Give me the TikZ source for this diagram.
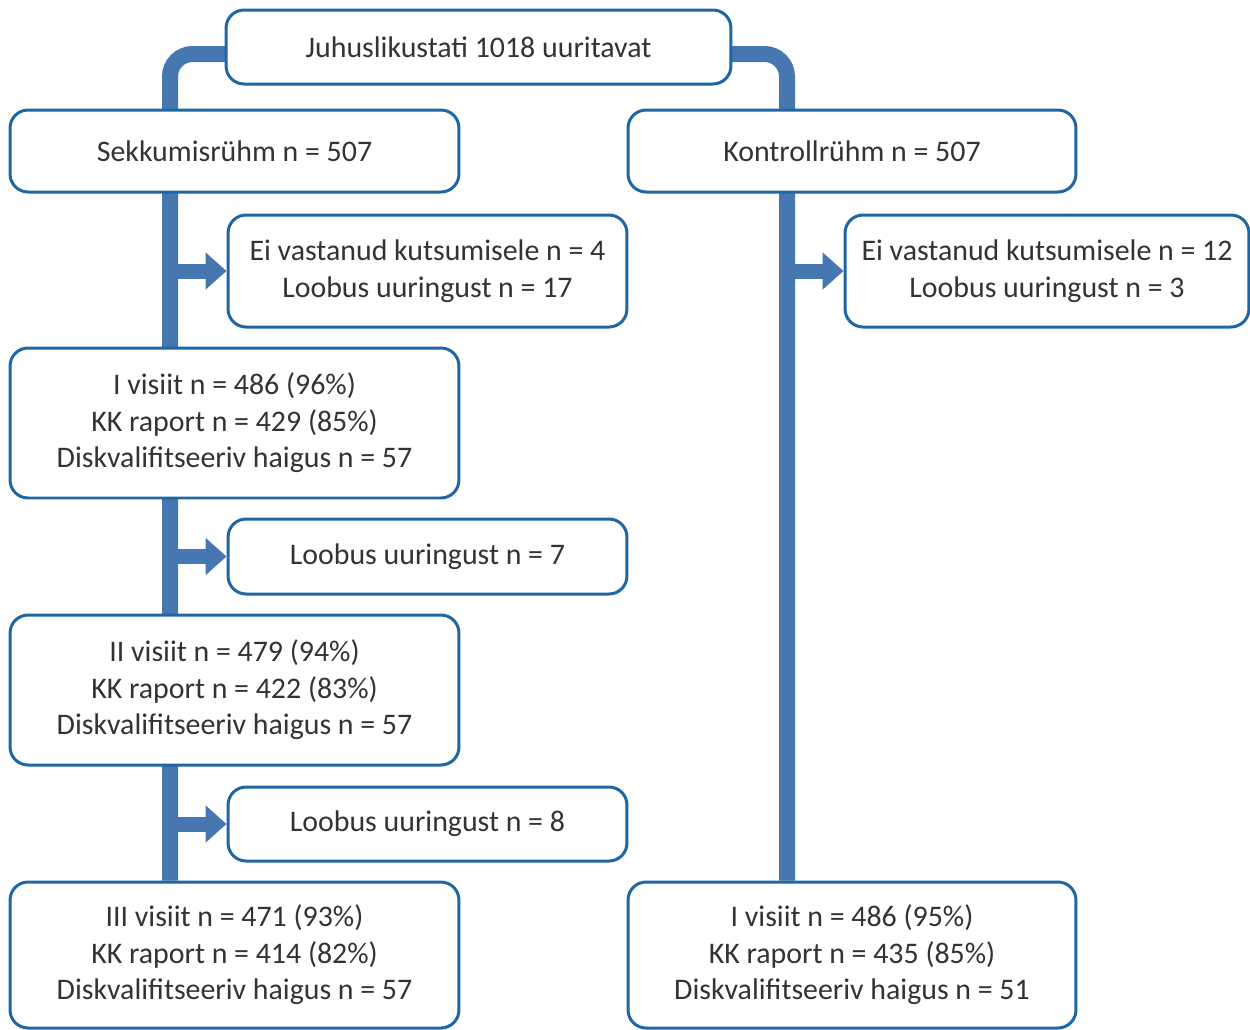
\documentclass[tikz,border=0pt]{standalone}
\usepackage{fontspec}
\setmainfont{Carlito}
\usetikzlibrary{arrows.meta}
\definecolor{trunkblue}{HTML}{4677B1}
\definecolor{boxblue}{HTML}{1E67A4}
\definecolor{txt}{HTML}{333333}
\pgfdeclarelayer{back}
\pgfsetlayers{back,main}
\begin{document}
\begin{tikzpicture}[x=0.02cm,y=-0.02cm,
  box/.style={draw=boxblue, line width=0.06cm, fill=white, rounded corners=0.36cm,
    align=center, inner sep=0pt, text=txt, font=\fontsize{17}{20.8}\selectfont},
  trunk/.style={draw=trunkblue, line width=0.32cm, rounded corners=0.45cm},
  branch/.style={draw=trunkblue, line width=0.3cm,
    -{Triangle[width=0.72cm,length=0.42cm]}, fill=trunkblue}]
\useasboundingbox (0,0) rectangle (1250,1029);
\coordinate (L) at (170,0);
\coordinate (R) at (787,0);

% boxes
\node[box, minimum width=10.1cm, minimum height=1.48cm] (top) at (478.5,47) {Juhuslikustati 1018 uuritavat};
\node[box, minimum width=8.98cm, minimum height=1.64cm] (sek) at (234.5,151) {Sekkumisrühm n = 507};
\node[box, minimum width=8.96cm, minimum height=1.64cm] (kon) at (852,151) {Kontrollrühm n = 507};
\node[box, minimum width=7.98cm, minimum height=2.24cm] (eil) at (427.5,271) {Ei vastanud kutsumisele n = 4\\Loobus uuringust n = 17};
\node[box, minimum width=8.08cm, minimum height=2.24cm] (eir) at (1047,271) {Ei vastanud kutsumisele n = 12\\Loobus uuringust n = 3};
\node[box, minimum width=8.98cm, minimum height=3.0cm] (v1) at (234.5,423) {I visiit n = 486 (96\%)\\KK raport n = 429 (85\%)\\Diskvalifitseeriv haigus n = 57};
\node[box, minimum width=7.98cm, minimum height=1.5cm] (lo7) at (427.5,556.5) {Loobus uuringust n = 7};
\node[box, minimum width=8.98cm, minimum height=3.0cm] (v2) at (234.5,690) {II visiit n = 479 (94\%)\\KK raport n = 422 (83\%)\\Diskvalifitseeriv haigus n = 57};
\node[box, minimum width=7.98cm, minimum height=1.48cm] (lo8) at (427.5,824) {Loobus uuringust n = 8};
\node[box, minimum width=8.98cm, minimum height=2.92cm] (v3) at (234.5,955) {III visiit n = 471 (93\%)\\KK raport n = 414 (82\%)\\Diskvalifitseeriv haigus n = 57};
\node[box, minimum width=8.96cm, minimum height=2.92cm] (kv1) at (852,955) {I visiit n = 486 (95\%)\\KK raport n = 435 (85\%)\\Diskvalifitseeriv haigus n = 51};

% connectors, drawn behind the boxes
\begin{pgfonlayer}{back}
  \draw[trunk] ([yshift=-0.14cm]top.center) -| (v3.north -| L);
  \draw[trunk] ([yshift=-0.14cm]top.center) -| (kv1.north -| R);
  \draw[branch] (eil.west -| L) -- (eil.west);
  \draw[branch] (lo7.west -| L) -- (lo7.west);
  \draw[branch] (lo8.west -| L) -- (lo8.west);
  \draw[branch] (eir.west -| R) -- (eir.west);
\end{pgfonlayer}
\end{tikzpicture}
\end{document}
